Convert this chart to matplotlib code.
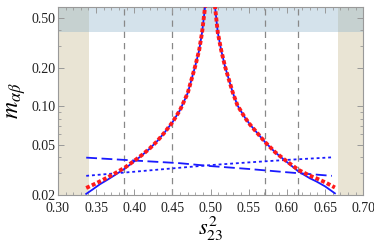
import numpy as np
import matplotlib
matplotlib.use("Agg")
import matplotlib.pyplot as plt
from matplotlib.ticker import FixedLocator, NullFormatter, MultipleLocator

plt.rcParams['font.family'] = ['Liberation Serif', 'DejaVu Serif']
plt.rcParams['mathtext.fontset'] = 'stix'

# red dotted / blue solid curve, left and right of the pole
s_left = [0.337, 0.345, 0.355, 0.365, 0.375, 0.388, 0.400, 0.410, 0.420, 0.430,
          0.440, 0.450, 0.460, 0.470, 0.4797, 0.485, 0.4889, 0.4928, 0.495]
m_red_left = [0.0227, 0.0239, 0.0256, 0.0275, 0.0297, 0.0330, 0.0372, 0.0413, 0.0464, 0.0531,
              0.0625, 0.0748, 0.0935, 0.127, 0.2056, 0.276, 0.384, 0.607, 0.89]
m_blue_left = [0.0204, 0.0220, 0.0243, 0.0264, 0.0288, 0.0324, 0.0368, 0.0411, 0.0463, 0.0531,
               0.0625, 0.0748, 0.0935, 0.127, 0.2056, 0.276, 0.384, 0.607, 0.89]

s_right = [0.504, 0.5059, 0.5094, 0.514, 0.519, 0.529, 0.5352, 0.545, 0.552, 0.5715,
           0.585, 0.600, 0.615, 0.630, 0.639, 0.650, 0.663]
m_red_right = [0.89, 0.607, 0.384, 0.276, 0.2056, 0.129, 0.102, 0.0815, 0.0715, 0.0522,
               0.0433, 0.0368, 0.0316, 0.0284, 0.0270, 0.0252, 0.0229]
m_blue_right = [0.89, 0.607, 0.384, 0.276, 0.2056, 0.129, 0.102, 0.0815, 0.0715, 0.0522,
                0.0432, 0.0364, 0.0307, 0.0271, 0.0255, 0.0234, 0.0206]

# blue dashed and dotted lines
s_lin = [0.337, 0.400, 0.460, 0.500, 0.552, 0.600, 0.659]
m_dashed = [0.0394, 0.0374, 0.0356, 0.0338, 0.0320, 0.0302, 0.0283]
m_dotted = [0.0283, 0.0305, 0.0328, 0.0344, 0.0362, 0.0378, 0.0396]

# reference lines and excluded regions
s_vlines = [0.387, 0.449, 0.572, 0.615]
s_band_left = (0.30, 0.341)
s_band_right = (0.667, 0.70)
m_band_low = 0.384

xticks = [0.30, 0.35, 0.40, 0.45, 0.50, 0.55, 0.60, 0.65, 0.70]
yticks = [0.02, 0.05, 0.10, 0.20, 0.50]

fig = plt.figure(figsize=(3.74, 2.44), dpi=100)
ax = fig.add_axes([0.155, 0.201, 0.816, 0.770])
ax.set_yscale('log')
ax.set_xlim(0.30, 0.70)
ax.set_ylim(0.02, 0.607)

ax.axvspan(*s_band_left, color='#e9e4d4', lw=0, zorder=0)
ax.axvspan(*s_band_right, color='#e9e4d4', lw=0, zorder=0)
ax.axhspan(m_band_low, 1.0, color='#8fb3cc', alpha=0.38, lw=0, zorder=0.5)

for xv in s_vlines:
    ax.axvline(xv, color='#888888', lw=0.9, ls=(0, (5, 4)), zorder=1)

ax.plot(s_lin, m_dashed, color='#1a1aff', lw=1.3, ls=(0, (6, 2.5)), zorder=2)
ax.plot(s_lin, m_dotted, color='#1a1aff', lw=1.3, ls=(0, (1.6, 1.6)), zorder=2)
ax.plot(s_left, m_blue_left, color='#1a1aff', lw=1.3, zorder=3)
ax.plot(s_right, m_blue_right, color='#1a1aff', lw=1.3, zorder=3)
ax.plot(s_left, m_red_left, color='#ff1a1a', lw=2.8, ls=(0, (1, 0.6)), zorder=4)
ax.plot(s_right, m_red_right, color='#ff1a1a', lw=2.8, ls=(0, (1, 0.6)), zorder=4)

ax.xaxis.set_major_locator(FixedLocator(xticks))
ax.xaxis.set_minor_locator(MultipleLocator(0.01))
ax.set_xticklabels(['%.2f' % v for v in xticks])
ax.yaxis.set_major_locator(FixedLocator(yticks))
ax.yaxis.set_minor_locator(FixedLocator([0.03, 0.04, 0.06, 0.07, 0.08, 0.09, 0.3, 0.4]))
ax.yaxis.set_minor_formatter(NullFormatter())
ax.set_yticklabels(['%.2f' % v for v in yticks])

ax.tick_params(which='both', direction='in', top=True, right=True, color='#999999')
ax.tick_params(which='major', length=4, width=0.7, labelsize=10, labelcolor='#222222')
ax.tick_params(axis='x', which='major', pad=5)
ax.tick_params(axis='y', which='major', pad=2)
ax.tick_params(which='minor', length=2, width=0.6)
for sp in ax.spines.values():
    sp.set_color('#999999')
    sp.set_linewidth(0.8)

ax.set_xlabel(r'$s^2_{23}$', fontsize=16, labelpad=0)
ax.set_ylabel(r'$m_{\alpha\beta}$', fontsize=17, labelpad=2)

fig.savefig('out.png', dpi=100)
